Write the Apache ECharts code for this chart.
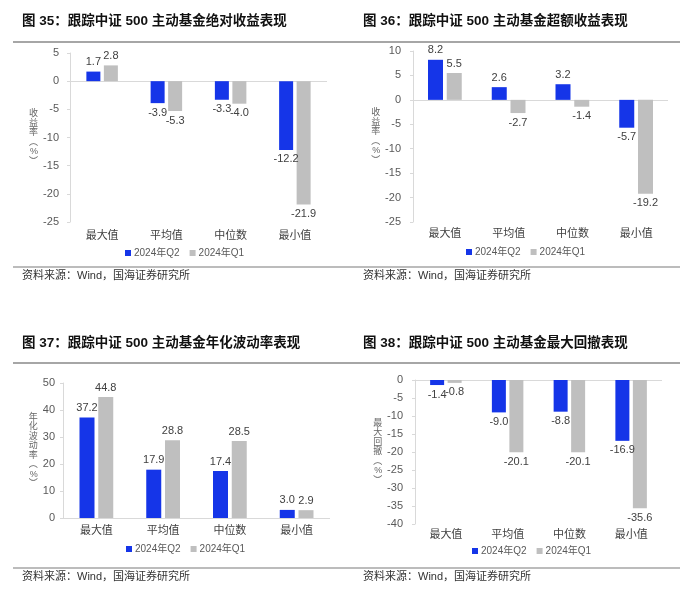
<!DOCTYPE html>
<html>
<head>
<meta charset="utf-8">
<script src="https://cdn.jsdelivr.net/npm/echarts@6/dist/echarts.min.js"></script>
<style>
html,body{margin:0;padding:0;background:#fff;}
#c{width:700px;height:599px;}
</style>
</head>
<body>
<div id="c"></div>
<script>
var categories = ['最大值', '平均值', '中位数', '最小值'];
var seriesNames = ['2024年Q2', '2024年Q1'];

var titles = [
  '图 35：跟踪中证 500 主动基金绝对收益表现',
  '图 36：跟踪中证 500 主动基金超额收益表现',
  '图 37：跟踪中证 500 主动基金年化波动率表现',
  '图 38：跟踪中证 500 主动基金最大回撤表现'
];
var axisNames = ['收\n益\n率\n︵\n%\n︶', '收\n益\n率\n︵\n%\n︶', '年\n化\n波\n动\n率\n︵\n%\n︶', '最\n大\n回\n撤\n︵\n%\n︶'];

var absQ2 = [1.7, -3.9, -3.3, -12.2];
var absQ1 = [2.8, -5.3, -4.0, -21.9];
var excQ2 = [8.2, 2.6, 3.2, -5.7];
var excQ1 = [5.5, -2.7, -1.4, -19.2];
var volQ2 = [37.2, 17.9, 17.4, 3.0];
var volQ1 = [44.8, 28.8, 28.5, 2.9];
var ddQ2 = [-1.4, -9.0, -8.8, -16.9];
var ddQ1 = [-0.8, -20.1, -20.1, -35.6];

var yMins = [-25, -25, 0, -40];
var yMaxs = [5, 10, 50, 0];
var yIntervals = [5, 5, 10, 5];
var sourceText = '资料来源：Wind，国海证券研究所';

var panelData = [[absQ2, absQ1], [excQ2, excQ1], [volQ2, volQ1], [ddQ2, ddQ1]];

// layout
var grids = [
  {left: 70, top: 53, width: 257, height: 169},
  {left: 413, top: 51, width: 255, height: 171},
  {left: 63, top: 383, width: 267, height: 135},
  {left: 415, top: 380, width: 247, height: 144}
];
var titlePos = [[22, 15], [363, 15], [22, 337], [363, 337]];
var nameGaps = [32, 31, 25, 28];
var labelMargins = [8, 6, 7, 5];
var tickMargins = [11, 12, 8, 12];
var legendPos = [[125, 248], [466, 247], [126, 544], [472, 546]];
var barWidths = [14, 15, 15, 14];
var sourcePos = [[22, 270], [363, 270], [22, 571], [363, 571]];

var BLUE = '#1535e8';
var GREY = '#bfbfbf';
var FONT = '"Liberation Sans", "Noto Sans CJK SC", sans-serif';
var colors = [BLUE, GREY];

var option = {
  animation: false,
  color: colors,
  textStyle: {fontFamily: FONT},
  title: titles.map(function (t, i) {
    return {text: t, left: titlePos[i][0], top: titlePos[i][1], padding: 0,
      textStyle: {fontSize: 13.5, fontWeight: 'bold', color: '#111', fontFamily: FONT}};
  }),
  grid: grids,
  legend: grids.map(function (g, i) {
    return {data: seriesNames, left: legendPos[i][0], top: legendPos[i][1], padding: 0,
      icon: 'rect', itemWidth: 6, itemHeight: 6, itemGap: 10, selectedMode: false,
      textStyle: {fontSize: 10, color: '#595959', fontFamily: FONT, padding: [0, 0, 0, -2]}};
  }),
  xAxis: grids.map(function (g, i) {
    return {type: 'category', gridIndex: i, data: categories,
      axisLine: {show: false}, axisTick: {show: false},
      axisLabel: {fontSize: 11, color: '#404040', margin: labelMargins[i]}};
  }),
  yAxis: grids.map(function (g, i) {
    return {type: 'value', gridIndex: i, min: yMins[i], max: yMaxs[i], interval: yIntervals[i],
      name: axisNames[i], nameLocation: 'middle', nameRotate: 0, nameGap: nameGaps[i],
      nameTextStyle: {fontSize: 9, lineHeight: 9.5, color: '#666'},
      splitLine: {show: false},
      axisLine: {show: true, lineStyle: {color: '#d9d9d9'}},
      axisTick: {show: true, length: 3, lineStyle: {color: '#d9d9d9'}},
      axisLabel: {fontSize: 11, color: '#595959', margin: tickMargins[i]}};
  }),
  series: [],
  graphic: []
};

panelData.forEach(function (pair, i) {
  pair.forEach(function (vals, k) {
    var s = {
      type: 'bar', name: seriesNames[k], xAxisIndex: i, yAxisIndex: i,
      barWidth: barWidths[i], barGap: '25%',
      itemStyle: {color: colors[k]},
      label: {show: true, fontSize: 11, color: '#404040', distance: 4,
        formatter: function (p) { return Number(p.value).toFixed(1); }},
      data: vals.map(function (v) {
        return {value: v, label: {position: v < 0 ? 'bottom' : 'top'}};
      })
    };
    if (k === 0) {
      s.markLine = {silent: true, symbol: 'none', z: 1, label: {show: false},
        lineStyle: {color: '#d9d9d9', type: 'solid', width: 1},
        data: [{yAxis: 0}]};
    }
    option.series.push(s);
  });
});

// separator lines
[42, 363].forEach(function (y) {
  option.graphic.push({type: 'line', shape: {x1: 13, y1: y, x2: 680, y2: y},
    style: {stroke: '#a6a6a6', lineWidth: 2}, silent: true});
});
[267, 568].forEach(function (y) {
  option.graphic.push({type: 'line', shape: {x1: 13, y1: y, x2: 680, y2: y},
    style: {stroke: '#a6a6a6', lineWidth: 1.5}, silent: true});
});
sourcePos.forEach(function (p) {
  option.graphic.push({type: 'text', left: p[0], top: p[1], silent: true,
    style: {text: sourceText, fontSize: 11, fill: '#333', fontFamily: FONT}});
});

var chart = echarts.init(document.getElementById('c'), null, {renderer: 'canvas'});
chart.setOption(option);
</script>
</body>
</html>
